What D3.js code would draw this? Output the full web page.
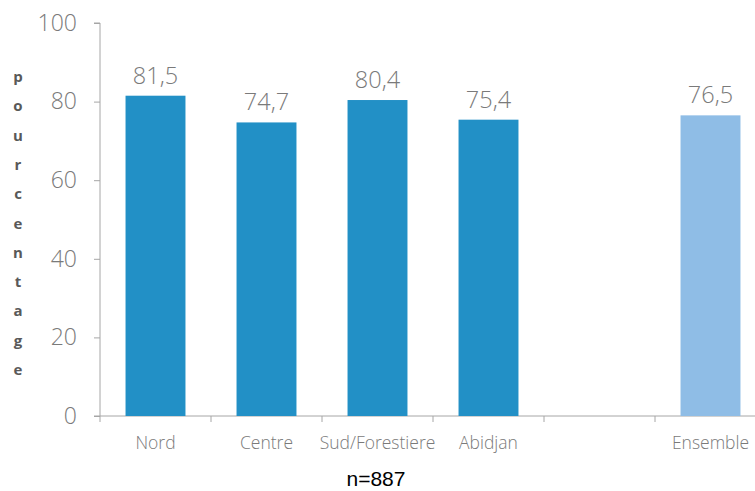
<!DOCTYPE html>
<html>
<head>
<meta charset="utf-8">
<script src="https://cdn.jsdelivr.net/npm/d3@7"></script>
<style>
  body { margin: 0; background: #fff; }
  svg { display: block; }
</style>
</head>
<body>
<div id="chart"></div>
<script>
// data
const categories = ['Nord', 'Centre', 'Sud/Forestiere', 'Abidjan', '', 'Ensemble'];
const values = [81.5, 74.7, 80.4, 75.4, null, 76.5];
const yTicks = [0, 20, 40, 60, 80, 100];
const axisTitle = 'pourcentage';
const note = 'n=887';

const W = 755, H = 491;
const margin = {top: 23, right: -11, bottom: 75, left: 100};
const width = W - margin.left - margin.right;
const height = H - margin.top - margin.bottom;

const svg = d3.select('#chart')
  .append('svg')
  .attr('width', W)
  .attr('height', H);

const g = svg.append('g')
  .attr('transform', `translate(${margin.left}, ${margin.top})`);

const x = d3.scaleBand()
  .domain(categories.map((c, i) => i))
  .range([0, width])
  .paddingInner(0.46)
  .paddingOuter(0.23);

const y = d3.scaleLinear()
  .domain([0, 100])
  .range([height, 0]);

const axisColor = '#a6a6a6';
const textColor = '#7a7a7a';

// y axis
const yAxis = g.append('g')
  .call(d3.axisLeft(y).tickValues(yTicks).tickSize(6).tickPadding(17))
  .style('font-family', '"Open Sans", sans-serif')
  .style('font-size', '23px');
yAxis.selectAll('line, path').attr('stroke', axisColor);
yAxis.selectAll('text').attr('fill', textColor).style('font-weight', 300);
yAxis.select('.domain').attr('d', `M-6,0H0V${height}`);

// x axis: ticks on band boundaries
const xAxis = g.append('g')
  .attr('transform', `translate(0, ${height})`);
xAxis.append('line')
  .attr('x1', -6).attr('x2', W - margin.left)
  .attr('stroke', axisColor);
const bounds = d3.range(categories.length).map(i => x(i) - x.step() * x.paddingInner() / 2);
xAxis.selectAll('.tk')
  .data(bounds)
  .join('line')
  .attr('class', 'tk')
  .attr('x1', d => d).attr('x2', d => d)
  .attr('y1', 0).attr('y2', 6)
  .attr('stroke', axisColor);
xAxis.selectAll('.lbl')
  .data(categories)
  .join('text')
  .attr('class', 'lbl')
  .attr('x', (d, i) => x(i) + x.bandwidth() / 2)
  .attr('y', 33)
  .attr('text-anchor', 'middle')
  .attr('fill', textColor)
  .style('font-family', '"Open Sans", sans-serif')
  .style('font-size', '17.5px')
  .style('font-weight', 300)
  .text(d => d);

// bars
const barData = values.map((v, i) => ({i, v})).filter(d => d.v !== null);
g.selectAll('.bar')
  .data(barData)
  .join('rect')
  .attr('class', 'bar')
  .attr('x', d => x(d.i))
  .attr('y', d => y(d.v))
  .attr('width', x.bandwidth())
  .attr('height', d => height - y(d.v))
  .attr('fill', d => categories[d.i] === 'Ensemble' ? '#8fbde6' : '#2290c6');

g.selectAll('.val')
  .data(barData)
  .join('text')
  .attr('class', 'val')
  .attr('x', d => x(d.i) + x.bandwidth() / 2)
  .attr('y', d => y(d.v) - 12)
  .attr('text-anchor', 'middle')
  .attr('fill', textColor)
  .style('font-family', '"Open Sans", sans-serif')
  .style('font-size', '23.5px')
  .style('font-weight', 300)
  .text(d => d3.format('.1f')(d.v).replace('.', ','));

// vertical axis title, one letter per line
svg.append('g')
  .selectAll('text')
  .data(axisTitle.split(''))
  .join('text')
  .attr('x', 18)
  .attr('y', (d, i) => 82 + i * 29.3)
  .attr('text-anchor', 'middle')
  .attr('fill', '#595959')
  .style('font-family', '"Open Sans", sans-serif')
  .style('font-size', '15px')
  .style('font-weight', 700)
  .text(d => d);

svg.append('text')
  .attr('x', 376)
  .attr('y', 486)
  .attr('text-anchor', 'middle')
  .attr('fill', '#000')
  .style('font-family', '"Liberation Sans", Arial, sans-serif')
  .style('font-size', '21px')
  .text(note);
</script>
</body>
</html>
